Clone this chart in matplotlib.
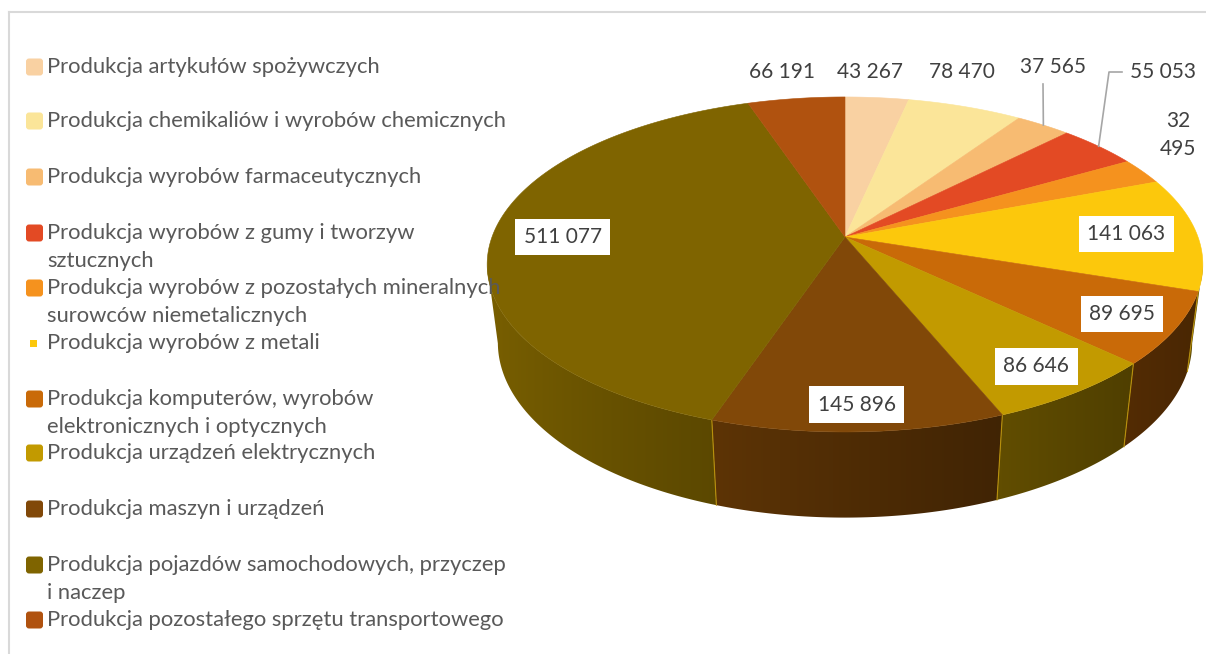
import numpy as np
import matplotlib
matplotlib.use('Agg')
import matplotlib.pyplot as plt
from matplotlib.patches import Polygon, FancyBboxPatch

categories = [
    "Produkcja artykułów spożywczych",
    "Produkcja chemikaliów i wyrobów chemicznych",
    "Produkcja wyrobów farmaceutycznych",
    "Produkcja wyrobów z gumy i tworzyw\nsztucznych",
    "Produkcja wyrobów z pozostałych mineralnych\nsurowców niemetalicznych",
    "Produkcja wyrobów z metali",
    "Produkcja komputerów, wyrobów\nelektronicznych i optycznych",
    "Produkcja urządzeń elektrycznych",
    "Produkcja maszyn i urządzeń",
    "Produkcja pojazdów samochodowych, przyczep\ni naczep",
    "Produkcja pozostałego sprzętu transportowego",
]
values = [43267, 78470, 37565, 55053, 32495, 141063, 89695, 86646, 145896, 511077, 66191]
colors = ['#F9D1A2', '#FBE599', '#F7BB72', '#E34A24', '#F5921E', '#FCC80C',
          '#C96A08', '#C29A00', '#814808', '#7F6400', '#B0520F']

# layout (pixels)
cx, cy = 845, 237
R, Rv, k, m, Hh = 353, 163, 0.164, 0.03, 80
legend_y = [67, 121, 177, 233, 288, 343, 399, 453, 509, 565, 620]
inside = {5: 0.80, 6: 0.85, 7: 0.85, 8: 0.88, 9: 0.80}
outside = {10: (782, 72), 0: (870, 72), 1: (962, 72), 2: (1053, 67),
           3: (1163, 72), 4: (1178, 135)}
leaders = {2: [(1043, 84)], 3: [(1109, 72), (1122, 72)]}

txt = '#404040'
font = 'Lato'


def fmt(v):
    return '{:,}'.format(v).replace(',', ' ')


def proj(theta, r=1.0, z=0.0):
    t = np.radians(theta)
    X = r * np.sin(t)
    Y = r * np.cos(t)
    w = 1 + k * Y - m * z
    return cx + R * X / w, cy - (Rv * Y + Hh * z) / w


def shade(x):
    t = np.clip((x - 485) / 720.0, 0, 1)
    return 0.96 - 0.6 * t ** 0.8


fig = plt.figure(figsize=(12.06, 6.54), dpi=100)
ax = fig.add_axes([0, 0, 1, 1])
ax.set_xlim(0, 1206)
ax.set_ylim(654, 0)
ax.axis('off')

# frame
ax.plot([9, 9], [12, 654], color='#D9D9D9', lw=1.5)
ax.plot([9, 1206], [12, 12], color='#D9D9D9', lw=1.5)

bounds = np.concatenate([[0], np.cumsum(values)]) / float(sum(values)) * 360
vis0 = 90 + np.degrees(np.arcsin(k))
vis1 = 360 - vis0

# walls
for i, c in enumerate(colors):
    a, b = max(bounds[i], vis0), min(bounds[i + 1], vis1)
    if a >= b:
        continue
    th = np.linspace(a, b, 80)
    tx, ty = proj(th)
    bx, by = proj(th[::-1], z=-1)
    pts = np.column_stack([np.concatenate([tx, bx]), np.concatenate([ty, by])])
    poly = Polygon(pts, closed=True, fc='none', ec='none')
    ax.add_patch(poly)
    xs = np.linspace(pts[:, 0].min(), pts[:, 0].max(), 200)
    base = np.array(matplotlib.colors.to_rgb(c))
    img = (base[None, :] * shade(xs)[:, None])[None, :, :]
    im = ax.imshow(img, extent=[xs[0], xs[-1], pts[:, 1].max(), pts[:, 1].min()],
                   aspect='auto', interpolation='bilinear', zorder=1)
    im.set_clip_path(poly)
    if bounds[i + 1] < vis1:
        x0, y0 = proj(bounds[i + 1])
        x1, y1 = proj(bounds[i + 1], z=-1)
        ax.plot([x0, x1], [y0, y1], color='#B8900A', lw=0.8, zorder=2)

# top faces
for i, c in enumerate(colors):
    th = np.linspace(bounds[i], bounds[i + 1], max(4, int((bounds[i + 1] - bounds[i]) * 2)))
    tx, ty = proj(th)
    pts = np.column_stack([np.concatenate([[cx], tx]), np.concatenate([[cy], ty])])
    ax.add_patch(Polygon(pts, closed=True, fc=c, ec=c, lw=0.4, zorder=3))

ax.set_xlim(0, 1206)
ax.set_ylim(654, 0)

# data labels
for i, r in inside.items():
    mid = (bounds[i] + bounds[i + 1]) / 2
    x, y = proj(mid, r)
    ax.text(x, y, fmt(values[i]), ha='center', va='center', fontsize=15,
            family=font, color=txt, zorder=5,
            bbox=dict(boxstyle='square,pad=0.4', fc='white', ec='none'))

for i, (x, y) in outside.items():
    s = fmt(values[i]).replace(' ', '\n') if i == 4 else fmt(values[i])
    ax.text(x, y, s, ha='center', va='center', fontsize=15, family=font,
            color=txt, zorder=5, linespacing=1.5)

for i, pts in leaders.items():
    mid = (bounds[i] + bounds[i + 1]) / 2
    x0, y0 = proj(mid)
    xs = [x0] + [p[0] for p in pts]
    ys = [y0] + [p[1] for p in pts]
    ax.plot(xs, ys, color='#A6A6A6', lw=1.2, zorder=4)

# legend
for i, (lab, c) in enumerate(zip(categories, colors)):
    y = legend_y[i]
    if i == 5:
        ax.add_patch(FancyBboxPatch((30, y - 3.5), 7, 7, boxstyle='square,pad=0',
                                    fc=c, ec='none'))
    else:
        ax.add_patch(FancyBboxPatch((26, y - 8.5), 17, 17, boxstyle='round,pad=0,rounding_size=3',
                                    fc=c, ec='none'))
    for j, line in enumerate(lab.split('\n')):
        ax.text(47, y + j * 28, line, ha='left', va='center', fontsize=15.8,
                family=font, color='#595959')

fig.savefig('out.png', dpi=100, facecolor='white')
